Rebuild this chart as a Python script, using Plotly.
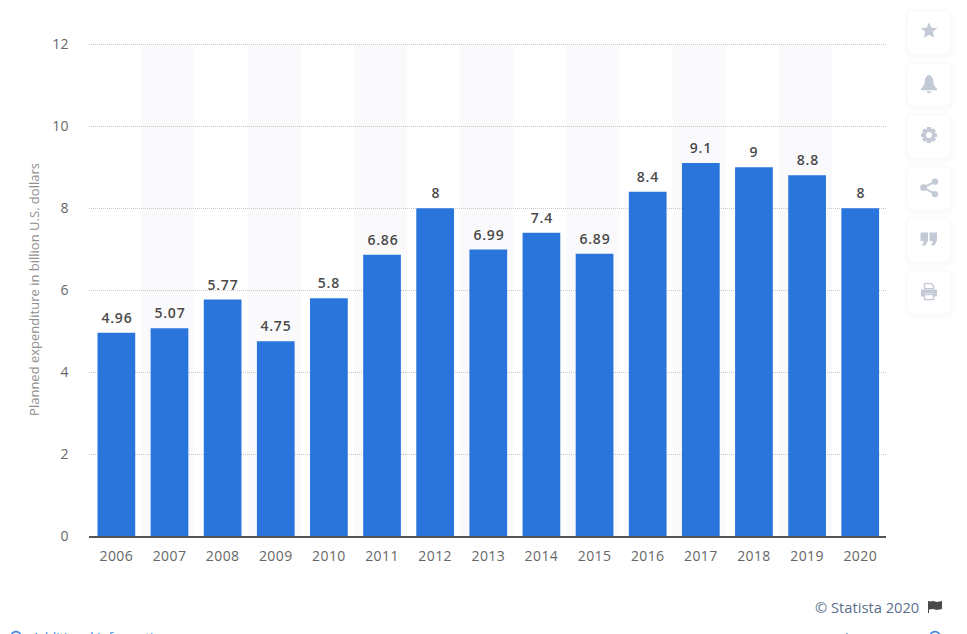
import plotly.graph_objects as go

years = ["2006","2007","2008","2009","2010","2011","2012","2013","2014","2015","2016","2017","2018","2019","2020"]
values = [4.96,5.07,5.77,4.75,5.8,6.86,8,6.99,7.4,6.89,8.4,9.1,9,8.8,8]
labels = ["4.96","5.07","5.77","4.75","5.8","6.86","8","6.99","7.4","6.89","8.4","9.1","9","8.8","8"]
axis_title = "Planned expenditure in billion U.S. dollars"
y_ticks = [0,2,4,6,8,10,12]
credit = "© Statista 2020"
FONT = "Open Sans"

W, H = 967, 634
Y_TOP = 12.03
L, R, B = 89, 886, 536.4
T = B - (536.4 - 44.6) / 12 * Y_TOP
def px(x): return (x - L) / (R - L)
def py(y): return (B - y) / (B - T)

def round_rect(x0, y0, x1, y1, r):
    return (f"M{px(x0+r)},{py(y0)} L{px(x1-r)},{py(y0)} Q{px(x1)},{py(y0)} {px(x1)},{py(y0+r)} "
            f"L{px(x1)},{py(y1-r)} Q{px(x1)},{py(y1)} {px(x1-r)},{py(y1)} L{px(x0+r)},{py(y1)} "
            f"Q{px(x0)},{py(y1)} {px(x0)},{py(y1-r)} L{px(x0)},{py(y0+r)} Q{px(x0)},{py(y0)} {px(x0+r)},{py(y0)} Z")

def poly(points, ox, oy):
    return "M" + " L".join(f"{px(ox+a)},{py(oy+b)}" for a, b in points) + " Z"

shapes = []
# alternating column bands
for i in range(1, len(years), 2):
    shapes.append(dict(type="rect", xref="x", yref="y", x0=i-0.53, x1=i+0.47, y0=0, y1=12,
                       fillcolor="#fafafc", line_width=0, layer="below"))

# side toolbar cards
card_tops = [12, 64, 116, 168, 220, 272]
for top in card_tops:
    for grow, op in [(6, 0.004), (4, 0.006), (2, 0.01)]:
        shapes.append(dict(type="path", xref="paper", yref="paper",
                           path=round_rect(908-grow, top-grow+1, 950+grow, top+42+grow+1, 6+grow),
                           fillcolor=f"rgba(40,60,90,{op})", line_width=0))
    shapes.append(dict(type="path", xref="paper", yref="paper",
                       path=round_rect(908, top, 950, top+42, 6), fillcolor="#ffffff", line_width=0))

ICON = "#c3cad6"
def icon(path, fill=ICON, line=0, lc=ICON):
    shapes.append(dict(type="path", xref="paper", yref="paper", path=path, fillcolor=fill,
                       line=dict(width=line, color=lc)))
def dot(cx_, cy_, r, fill=ICON, line=0, lc=ICON):
    shapes.append(dict(type="circle", xref="paper", yref="paper", x0=px(cx_-r), x1=px(cx_+r),
                       y0=py(cy_+r), y1=py(cy_-r), fillcolor=fill, line=dict(width=line, color=lc)))
cx = 929
# star
icon(poly([(0,-8.5),(2.4,-3),(8.3,-2.6),(3.8,1.2),(5.2,7.2),(0,4),(-5.2,7.2),(-3.8,1.2),(-8.3,-2.6),(-2.4,-3)], cx, 31))
# bell
icon(poly([(0,-9),(2,-8),(4,-5),(4.6,0),(6,3),(8,5),(8,6.5),(-8,6.5),(-8,5),(-6,3),(-4.6,0),(-4,-5),(-2,-8)], cx, 84))
icon(poly([(-2.5,7.5),(2.5,7.5),(1,9.5),(-1,9.5)], cx, 84))
# gear
gear = [(-2,-8),(2,-8),(2.6,-5.6),(5,-6.6),(7,-4),(5.4,-2.2),(8,-1.6),(8,1.6),(5.4,2.2),(7,4),(5,6.6),(2.6,5.6),(2,8),(-2,8),(-2.6,5.6),(-5,6.6),(-7,4),(-5.4,2.2),(-8,1.6),(-8,-1.6),(-5.4,-2.2),(-7,-4),(-5,-6.6),(-2.6,-5.6)]
icon(poly(gear, cx, 135.5))
dot(cx, 135.5, 3, fill="#ffffff")
# share
for a, b, r in [(6, -6, 3.2), (-5.5, 0, 3.4), (6, 6.5, 3.2)]:
    dot(cx+a, 188+b, r)
icon(f"M{px(cx+6)},{py(182)} L{px(cx-5.5)},{py(188)} L{px(cx+6)},{py(194.5)}", fill="rgba(0,0,0,0)", line=2)
# quote
for ox in (cx-4.5, cx+4.5):
    icon(poly([(-4,-7),(3.5,-7),(3.5,1),(1,6),(-2.5,6),(-0.5,1.5),(-4,1.5)], ox, 240))
# print
icon(poly([(-8,-2),(8,-2),(8,5),(4.5,5),(4.5,2),(-4.5,2),(-4.5,5),(-8,5)], cx, 292))
icon(poly([(-4.5,-8),(2.5,-8),(4.5,-6),(4.5,-3),(-4.5,-3)], cx, 292), fill="#ffffff", line=1.4)
icon(poly([(-4.5,3),(4.5,3),(4.5,8),(-4.5,8)], cx, 292), fill="#ffffff", line=1.4)
# flag beside the credit
icon(poly([(0,-6),(1,-6),(1,6),(0,6)], 928, 607.5), fill="#4a4a4a")
icon(poly([(1,-5.5),(5,-6),(9,-5),(14,-6),(14,2),(9,3),(5,2),(1,2.5)], 928, 607.5), fill="#4a4a4a")
# page-footer circles, cut by the window edge as in the reference
dot(16, 637, 5, fill="rgba(0,0,0,0)", line=1.6, lc="#3a7fe0")
dot(935, 637, 5, fill="rgba(0,0,0,0)", line=1.6, lc="#3a7fe0")

annotations = [
    dict(xref="paper", yref="paper", x=px(921), y=py(607.5), xanchor="right", yanchor="middle", showarrow=False,
         text=credit, font=dict(family=FONT, size=14.7, color="#5b6f8c")),
    dict(xref="paper", yref="paper", x=px(30), y=py(637), xanchor="left", yanchor="middle", showarrow=False,
         text="Additional Information", font=dict(family=FONT, size=13, color="#3a7fe0")),
    dict(xref="paper", yref="paper", x=px(836), y=py(638), xanchor="left", yanchor="middle", showarrow=False,
         text="Show source", font=dict(family=FONT, size=13, color="#3a7fe0")),
]
# value labels, placed from the data with a fixed gap over each bar
for i, (v, lab) in enumerate(zip(values, labels)):
    annotations.append(dict(x=i, y=v, xref="x", yref="y", text=lab, showarrow=False, yanchor="bottom",
                            yshift=4, xshift=0.5,
                            font=dict(family=FONT, size=14, color="#4a4a4a", weight=600)))

fig = go.Figure(go.Bar(
    x=years, y=values,
    marker=dict(color="#2975dc", line_width=0), width=0.71, hoverinfo="x+y",
))
fig.update_layout(
    width=W, height=H, margin=dict(l=L, r=W-R, t=T, b=H-B, autoexpand=False),
    paper_bgcolor="#ffffff", plot_bgcolor="rgba(0,0,0,0)", showlegend=False,
    font=dict(family=FONT), shapes=shapes, annotations=annotations,
    xaxis=dict(type="category", range=[-0.515, len(years)-0.515], showgrid=False,
               showline=True, linecolor="#555555", linewidth=2, ticks="", ticklen=0,
               ticklabelstandoff=6,
               tickfont=dict(family=FONT, size=14, color="#666666"), fixedrange=True),
    yaxis=dict(range=[0, Y_TOP], tickvals=y_ticks, showgrid=True, griddash="1px,1px", gridcolor="#c8c8c8", gridwidth=1,
               zeroline=False, showline=False, ticks="",
               tickfont=dict(family=FONT, size=14, color="#666666"), ticklabelstandoff=19,
               title=dict(text=axis_title, font=dict(family=FONT, size=13, color="#8f8f8f"), standoff=10),
               fixedrange=True),
)
post = """
document.body.style.margin='0';document.body.style.overflow='hidden';
var st=document.createElement('style');
st.textContent='.xtick text,.ytick text{letter-spacing:.4px}.annotation-text{letter-spacing:.8px}'
 +'.annotation[data-index="0"] text,.annotation[data-index="1"] text,.annotation[data-index="2"] text{letter-spacing:0}';
document.head.appendChild(st);
"""
fig.write_html("out.html", config=dict(displayModeBar=False), post_script=post)
